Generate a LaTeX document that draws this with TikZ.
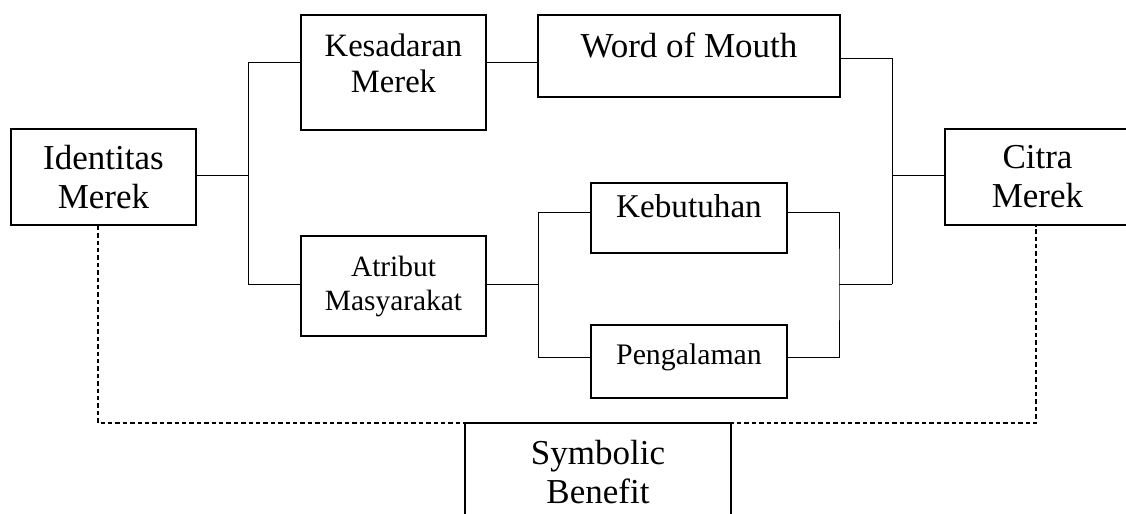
\documentclass[tikz,border=0pt]{standalone}
\usepackage{fontspec}
\setmainfont{Liberation Serif}
\usetikzlibrary{positioning, calc}
\tikzset{
	conbox/.style={draw, line width=0.75pt, align=center, inner sep=2pt, fill=white},
	conline/.style={line width=0.5pt},
	linkdash/.style={line width=0.55pt, dash pattern=on 2.2pt off 1.5pt},
	bigtext/.style={font=\fontsize{17.5}{19.5}\selectfont},
}
\begin{document}
\begin{tikzpicture}[x=0.5pt, y=-0.5pt]
	\useasboundingbox (0,0) rectangle (1126,514);
	% boxes
	\node[conbox, bigtext, minimum width=92.5pt, minimum height=48pt] (ident) at (103.5,177) {Identitas\\Merek};
	\node[conbox, font=\fontsize{16.3}{18}\selectfont, minimum width=92.5pt, minimum height=57.5pt, text depth=9pt] (kes) at (393.5,72.5) {Kesadaran\\Merek};
	\node[conbox, bigtext, minimum width=151pt, minimum height=41pt, text depth=11pt] (wom) at (689,56) {Word of Mouth};
	\node[conbox, font=\fontsize{14.7}{17}\selectfont, minimum width=92.5pt, minimum height=50pt] (atr) at (393.5,286) {Atribut\\Masyarakat};
	\node[conbox, font=\fontsize{16.6}{18}\selectfont, minimum width=98pt, minimum height=35pt, text depth=12pt] (keb) at (689,218) {Kebutuhan};
	\node[conbox, font=\fontsize{14.9}{16}\selectfont, minimum width=98pt, minimum height=36.5pt, text depth=7.5pt] (pen) at (689,361.5) {Pengalaman};
	\node[conbox, bigtext, minimum width=92.5pt, minimum height=48pt] (cit) at (1037.5,177) {Citra\\Merek};
	% left bus
	\coordinate (jl) at (248,175);
	\coordinate (jlt) at (248,62);
	\coordinate (jlb) at (248,284);
	\draw[conline] (ident.east |- jl) -- (jl);
	\draw[conline] (kes.west |- jlt) -- (jlt) -- (jlb) -- (atr.west |- jlb);
	\draw[conline] (kes.east |- jlt) -- (wom.west |- jlt);
	% middle bus
	\coordinate (jm) at (538,284);
	\coordinate (jmt) at (538,212);
	\coordinate (jmb) at (538,357);
	\draw[conline] (atr.east |- jm) -- (jm);
	\draw[conline] (keb.west |- jmt) -- (jmt) -- (jmb) -- (pen.west |- jmb);
	\coordinate (jr) at (839,284);
	\draw[conline] (keb.east |- jmt) -| (jr) |- (pen.east |- jmb);
	% right bus
	\coordinate (jo) at (892,175);
	\coordinate (jot) at (892,58);
	\draw[conline] (jr) -- (jr -| jo);
	\draw[conline] (wom.east |- jot) -- (jot) -- (jr -| jo);
	\draw[conline] (jo) -- (cit.west |- jo);
	% dashed link
	\coordinate (dl) at (98,423);
	\coordinate (dr) at (1036,423);
	\draw[linkdash] (ident.south -| dl) -- (dl) -- (dr) -- (cit.south -| dr);
	\node[conbox, bigtext, minimum width=133pt, minimum height=49pt] (sym) at (598,472) {Symbolic\\Benefit};
\end{tikzpicture}
\end{document}
